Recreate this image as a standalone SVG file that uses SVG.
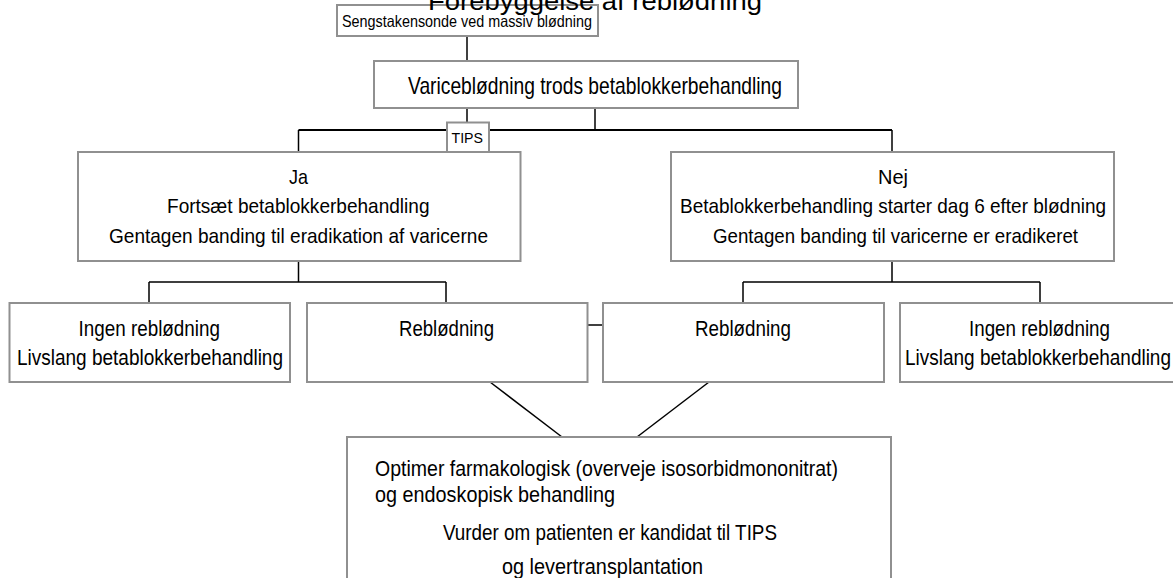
<svg xmlns="http://www.w3.org/2000/svg" width="1173" height="578" viewBox="0 0 1173 578">
<style>
.box{fill:#ffffff;stroke:#909090;stroke-width:2}
.c{fill:none;stroke:#000000;stroke-width:1.5}
.t{font-family:"Liberation Sans",Arial,sans-serif;fill:#000000}
</style>
<rect width="1173" height="578" fill="#ffffff"/>
<g id="connectors">
<path class="c" d="M467,36 V61"/>
<path class="c" d="M467,108 V123"/>
<path class="c" d="M595,108 V130"/>
<path class="c" style="stroke-width:2" d="M298.5,130 H892"/>
<path class="c" d="M298.5,130 V152"/>
<path class="c" d="M892,130 V152"/>
<path class="c" d="M298.5,261 V282 M149,282 H446 M149,282 V303 M446,282 V303"/>
<path class="c" d="M892,261 V282 M743,282 H1040 M743,282 V303 M1040,282 V303"/>
<path class="c" d="M587.5,325 H603"/>
<path class="c" d="M490,382 L562,437"/>
<path class="c" d="M709,382 L637,437"/>
</g>
<g id="sengstaken">
<rect class="box" x="337" y="5" width="261" height="31"/>
<text class="t" x="342" y="27" font-size="16.5" textLength="250" lengthAdjust="spacingAndGlyphs">Sengstakensonde ved massiv blødning</text>
</g>
<g id="varice">
<rect class="box" x="374" y="61" width="424" height="47"/>
<text class="t" x="408" y="94" font-size="24" textLength="374" lengthAdjust="spacingAndGlyphs">Variceblødning trods betablokkerbehandling</text>
</g>
<g id="tips">
<rect class="box" x="447" y="122.5" width="42" height="29.5"/>
<text class="t" x="451.5" y="143.3" font-size="15.5" textLength="31.5" lengthAdjust="spacingAndGlyphs">TIPS</text>
</g>
<g id="ja">
<rect class="box" x="78" y="152" width="442.5" height="109"/>
<text class="t" x="289" y="184" font-size="21" textLength="19" lengthAdjust="spacingAndGlyphs">Ja</text>
<text class="t" x="167" y="213" font-size="21" textLength="262.5" lengthAdjust="spacingAndGlyphs">Fortsæt betablokkerbehandling</text>
<text class="t" x="109" y="243" font-size="21" textLength="379" lengthAdjust="spacingAndGlyphs">Gentagen banding til eradikation af varicerne</text>
</g>
<g id="nej">
<rect class="box" x="671" y="152" width="443" height="109"/>
<text class="t" x="878" y="184" font-size="21" textLength="30" lengthAdjust="spacingAndGlyphs">Nej</text>
<text class="t" x="680" y="213" font-size="21" textLength="426" lengthAdjust="spacingAndGlyphs">Betablokkerbehandling starter dag 6 efter blødning</text>
<text class="t" x="713" y="243" font-size="21" textLength="365" lengthAdjust="spacingAndGlyphs">Gentagen banding til varicerne er eradikeret</text>
</g>
<g id="ingen1">
<rect class="box" x="9.5" y="303" width="280.5" height="79"/>
<text class="t" x="78.5" y="336" font-size="22" textLength="141.5" lengthAdjust="spacingAndGlyphs">Ingen reblødning</text>
<text class="t" x="17" y="365" font-size="22" textLength="266" lengthAdjust="spacingAndGlyphs">Livslang betablokkerbehandling</text>
</g>
<g id="rebl1">
<rect class="box" x="307" y="303" width="280.5" height="79"/>
<text class="t" x="399" y="336" font-size="22" textLength="95" lengthAdjust="spacingAndGlyphs">Reblødning</text>
</g>
<g id="rebl2">
<rect class="box" x="603" y="303" width="281" height="79"/>
<text class="t" x="695" y="336" font-size="22" textLength="96" lengthAdjust="spacingAndGlyphs">Reblødning</text>
</g>
<g id="ingen2">
<rect class="box" x="900" y="303" width="281" height="79"/>
<text class="t" x="969" y="336" font-size="22" textLength="141" lengthAdjust="spacingAndGlyphs">Ingen reblødning</text>
<text class="t" x="905" y="365" font-size="22" textLength="266" lengthAdjust="spacingAndGlyphs">Livslang betablokkerbehandling</text>
</g>
<g id="optimer">
<rect class="box" x="347" y="437" width="544" height="170"/>
<text class="t" x="375" y="476" font-size="21.5" textLength="463" lengthAdjust="spacingAndGlyphs">Optimer farmakologisk (overveje isosorbidmononitrat)</text>
<text class="t" x="375" y="502" font-size="21.5" textLength="240" lengthAdjust="spacingAndGlyphs">og endoskopisk behandling</text>
<text class="t" x="443" y="540" font-size="21.5" textLength="334" lengthAdjust="spacingAndGlyphs">Vurder om patienten er kandidat til TIPS</text>
<text class="t" x="502" y="574" font-size="21.5" textLength="201" lengthAdjust="spacingAndGlyphs">og levertransplantation</text>
</g>
<g id="title">
<text class="t" x="428" y="9.5" font-size="26" textLength="334" lengthAdjust="spacingAndGlyphs">Forebyggelse af reblødning</text>
</g>
</svg>
